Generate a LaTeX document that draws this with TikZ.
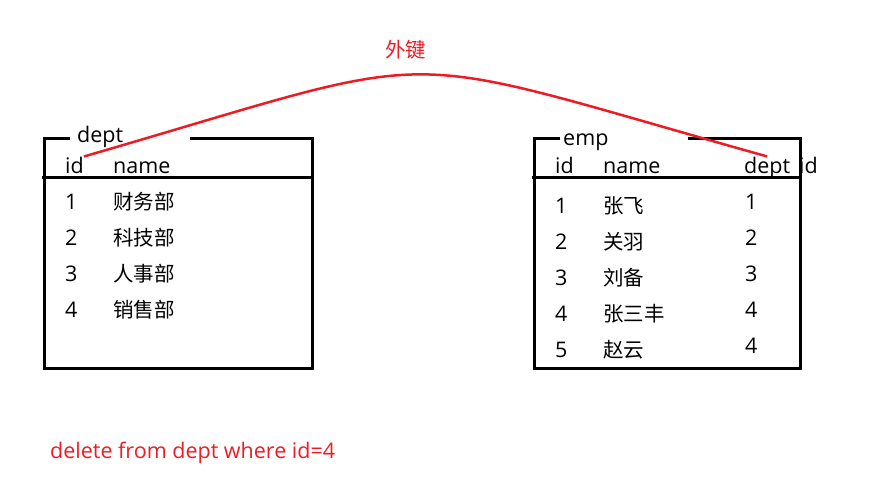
\documentclass[tikz,border=0pt]{standalone}
\usepackage{fontspec}
\setmainfont{Open Sans}
\newfontfamily\cjk{Noto Sans CJK SC}
\usetikzlibrary{positioning}
\definecolor{fkred}{RGB}{237,28,36}

\begin{document}
\begin{tikzpicture}[x=1pt, y=-1pt, font=\fontsize{21.5}{26}\selectfont,
    tblline/.style={line width=3pt},
    cell/.style={anchor=base west, inner sep=0pt},
    zh/.style={font=\cjk\fontsize{20.5}{24}\selectfont},
    fkline/.style={draw=fkred, line width=2.5pt}]
    \useasboundingbox (0,0) rectangle (876,498);

    % dept table
    \node[cell] (depttitle) at (77,142)  {dept};
    \node[cell] (deptid)    at (65,173)  {id};
    \node[cell] (deptname)  at (113,173) {name};
    \foreach \n [count=\k] in {财务部,科技部,人事部,销售部} {
        \node[cell] (deptid\k)       at (65,{209+36*(\k-1)})  {\k};
        \node[cell, zh] (deptname\k) at (113,{209+36*(\k-1)}) {\n};
    }
    \draw[tblline] (70,138) -| (44,368) -| (312,138) -- (190,138);
    \draw[tblline] (42,177) -- (312,177);

    % emp table
    \node[cell] (emptitle)  at (563,145) {emp};
    \node[cell] (empid)     at (555,173) {id};
    \node[cell] (empname)   at (603,173) {name};
    \node[cell] (empdept)   at (744,173) {dept};
    \node[cell, anchor=base east] (empextra) at (818,173) {id};
    \foreach \n/\d [count=\k] in {张飞/1,关羽/2,刘备/3,张三丰/4,赵云/4} {
        \node[cell] (empid\k)       at (555,{213+36*(\k-1)}) {\k};
        \node[cell, zh] (empname\k) at (603,{213+36*(\k-1)}) {\n};
        \node[cell] (empdept\k)     at (745,{209+36*(\k-1)}) {\d};
    }
    \draw[tblline] (560,138) -| (534,368) -| (800,138) -- (688,138);
    \draw[tblline] (532,177) -- (802,177);

    % foreign key
    \draw[fkline] (deptid.north east) .. controls (462,47) and (376,47) .. (empdept.north);
    \node[cell, zh, text=fkred] (fklabel) at (385,57) {外键};

    \node[cell, text=fkred] (sqlnote) at (50,458) {delete from dept where id=4};
\end{tikzpicture}
\end{document}
